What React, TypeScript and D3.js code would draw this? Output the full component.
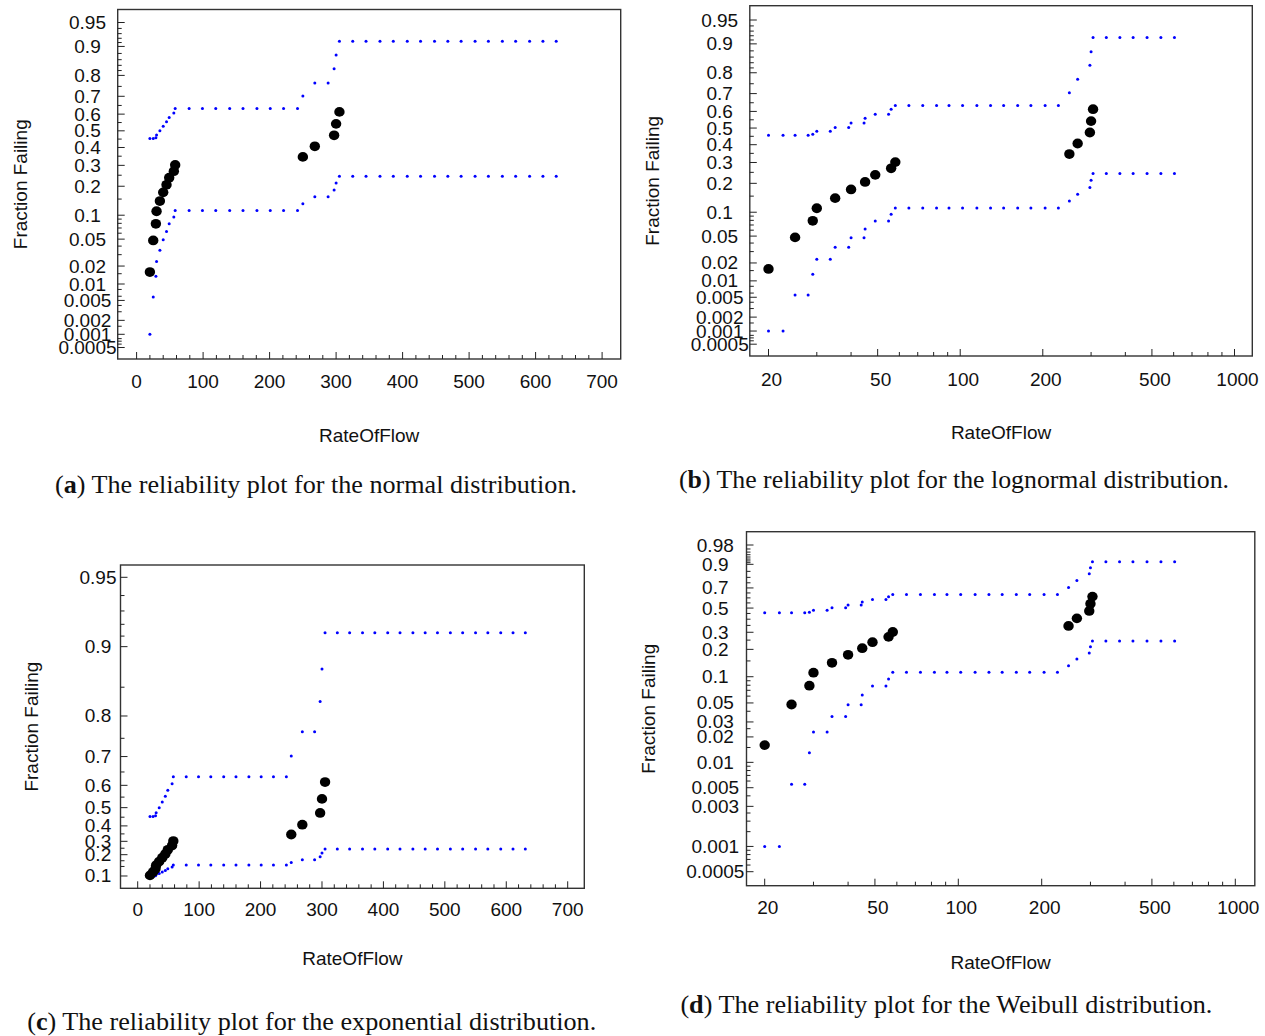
import React from 'react';
import * as d3 from 'd3';

// RateOfFlow at each failure and its estimated fraction failing
const flowFailures = [20, 25, 29, 30, 35, 40, 45, 49, 56, 58, 250, 268, 297, 300, 305];
const fractionFailing = [0.016, 0.048, 0.079, 0.111, 0.143, 0.175, 0.206, 0.238, 0.270, 0.302, 0.346, 0.407, 0.473, 0.542, 0.613];

// confidence band samples on the linear RateOfFlow plots (a, c)
const linBandFlow = [20, 25, 29, 30, 35, 40, 45, 49, 56, 58, 79, 99, 119, 140, 160, 181, 201, 221, 242, 250, 268, 288, 297, 300, 305, 325, 345, 366, 386, 407, 427, 448, 468, 488, 509, 529, 550, 570, 591, 611, 631];
const linBandUpper = [0.454, 0.454, 0.458, 0.474, 0.500, 0.527, 0.554, 0.580, 0.606, 0.633, 0.633, 0.633, 0.633, 0.633, 0.633, 0.633, 0.633, 0.633, 0.633, 0.702, 0.766, 0.766, 0.827, 0.875, 0.913, 0.913, 0.913, 0.913, 0.913, 0.913, 0.913, 0.913, 0.913, 0.913, 0.913, 0.913, 0.913, 0.913, 0.913, 0.913, 0.913];
const linBandLower = [0.001, 0.0058, 0.0136, 0.0235, 0.035, 0.049, 0.063, 0.079, 0.095, 0.113, 0.113, 0.113, 0.113, 0.113, 0.113, 0.113, 0.113, 0.113, 0.113, 0.134, 0.158, 0.158, 0.184, 0.214, 0.245, 0.245, 0.245, 0.245, 0.245, 0.245, 0.245, 0.245, 0.245, 0.245, 0.245, 0.245, 0.245, 0.245, 0.245, 0.245, 0.245];

// confidence band samples on the log RateOfFlow plots (b, d)
const logBandFlow = [20, 22.6, 25, 27.9, 29, 30, 33.6, 35, 39.2, 40, 44.6, 45, 49, 54.8, 56, 58, 65, 73, 82, 91, 102, 115, 129, 144, 162, 181, 204, 228, 250, 268, 297, 300, 305, 341, 382, 427, 480, 539, 604];
const logBandUpper = [0.456, 0.456, 0.456, 0.456, 0.462, 0.480, 0.480, 0.504, 0.504, 0.530, 0.530, 0.559, 0.583, 0.583, 0.612, 0.635, 0.635, 0.635, 0.635, 0.635, 0.635, 0.635, 0.635, 0.635, 0.635, 0.635, 0.635, 0.635, 0.704, 0.771, 0.830, 0.877, 0.916, 0.916, 0.916, 0.916, 0.916, 0.916, 0.916];
const logBandLower = [0.001, 0.001, 0.0055, 0.0055, 0.013, 0.0228, 0.0228, 0.0347, 0.0347, 0.0475, 0.0475, 0.062, 0.0785, 0.0785, 0.0945, 0.112, 0.112, 0.112, 0.112, 0.112, 0.112, 0.112, 0.112, 0.112, 0.112, 0.112, 0.112, 0.112, 0.133, 0.157, 0.183, 0.213, 0.245, 0.245, 0.245, 0.245, 0.245, 0.245, 0.245];

// axis ticks
const linFlowTicks = [0, 100, 200, 300, 400, 500, 600, 700];
const logFlowTicks = [20, 50, 100, 200, 500, 1000];
const logFlowMinor = [30, 40, 60, 70, 80, 90, 300, 400, 600, 700, 800, 900];
const normalTicks = [0.95, 0.9, 0.8, 0.7, 0.6, 0.5, 0.4, 0.3, 0.2, 0.1, 0.05, 0.02, 0.01, 0.005, 0.002, 0.001, 0.0005];
const normalMinor = [0.94, 0.93, 0.92, 0.91, 0.88, 0.86, 0.84, 0.82, 0.75, 0.65, 0.55, 0.45, 0.35, 0.25, 0.15, 0.09, 0.08, 0.07, 0.06, 0.04, 0.03, 0.015, 0.008, 0.006, 0.004, 0.003, 0.0015, 0.0008, 0.0007, 0.0006];
const expTicks = [0.95, 0.9, 0.8, 0.7, 0.6, 0.5, 0.4, 0.3, 0.2, 0.01];
const expTickLabels = ['0.95', '0.9', '0.8', '0.7', '0.6', '0.5', '0.4', '0.3', '0.2', '0.1'];
const expMinor = [0.94, 0.93, 0.92, 0.91, 0.85, 0.75, 0.65, 0.55, 0.45, 0.35, 0.25, 0.15, 0.1];
const weibullTicks = [0.98, 0.9, 0.7, 0.5, 0.3, 0.2, 0.1, 0.05, 0.03, 0.02, 0.01, 0.005, 0.003, 0.001, 0.0005];
const weibullMinor = [0.97, 0.96, 0.95, 0.94, 0.93, 0.92, 0.91, 0.85, 0.8, 0.75, 0.65, 0.6, 0.55, 0.45, 0.4, 0.35, 0.25, 0.15, 0.09, 0.08, 0.07, 0.06, 0.04, 0.025, 0.015, 0.009, 0.008, 0.007, 0.006, 0.004, 0.0025, 0.002, 0.0015, 0.0009, 0.0008, 0.0007, 0.0006];

const captions = [
  { tag: 'a', text: ') The reliability plot for the normal distribution.' },
  { tag: 'b', text: ') The reliability plot for the lognormal distribution.' },
  { tag: 'c', text: ') The reliability plot for the exponential distribution.' },
  { tag: 'd', text: ') The reliability plot for the Weibull distribution.' },
];

// inverse normal cdf (Acklam)
function probit(p: number) {
  const a = [-39.69683028665376, 220.9460984245205, -275.9285104469687, 138.357751867269, -30.66479806614716, 2.506628277459239];
  const b = [-54.47609879822406, 161.5858368580409, -155.6989798598866, 66.80131188771972, -13.28068155288572];
  const c = [-0.007784894002430293, -0.3223964580411365, -2.400758277161838, -2.549732539343734, 4.374664141464968, 2.938163982698783];
  const d = [0.007784695709041462, 0.3224671290700398, 2.445134137142996, 3.754408661907416];
  const lo = 0.02425;
  if (p < lo) {
    const q = Math.sqrt(-2 * Math.log(p));
    return (((((c[0] * q + c[1]) * q + c[2]) * q + c[3]) * q + c[4]) * q + c[5]) / ((((d[0] * q + d[1]) * q + d[2]) * q + d[3]) * q + 1);
  }
  if (p <= 1 - lo) {
    const q = p - 0.5, r = q * q;
    return (((((a[0] * r + a[1]) * r + a[2]) * r + a[3]) * r + a[4]) * r + a[5]) * q / (((((b[0] * r + b[1]) * r + b[2]) * r + b[3]) * r + b[4]) * r + 1);
  }
  const q = Math.sqrt(-2 * Math.log(1 - p));
  return -(((((c[0] * q + c[1]) * q + c[2]) * q + c[3]) * q + c[4]) * q + c[5]) / ((((d[0] * q + d[1]) * q + d[2]) * q + d[3]) * q + 1);
}
const expT = (p: number) => -Math.log(1 - p);
const weibT = (p: number) => Math.log(-Math.log(1 - p));

const SANS = 'Liberation Sans, Arial, sans-serif';
const SERIF = 'Liberation Serif, Times New Roman, serif';

function Panel({ cfg }: { cfg: any }) {
  const { box, x, yPos, xTicks, xMinor, yTicks, yLabels, yMinor, labelX, xLabelY, yTitleX, xTitleY, bandFlow, bandUpper, bandLower, xLabelDx } = cfg;
  const midX = (box.l + box.r) / 2;
  const midY = (box.t + box.b) / 2;
  return (
    <g>
      <rect x={box.l} y={box.t} width={box.r - box.l} height={box.b - box.t} fill="white" stroke="#333" strokeWidth={1.4} />
      {yTicks.map((p: number) => (
        <line key={'yt' + p} x1={box.l} x2={box.l + 7} y1={yPos(p)} y2={yPos(p)} stroke="#222" strokeWidth={1} />
      ))}
      {yMinor.map((p: number) => (
        <line key={'ym' + p} x1={box.l} x2={box.l + 4} y1={yPos(p)} y2={yPos(p)} stroke="#222" strokeWidth={1} />
      ))}
      {xTicks.map((v: number) => (
        <line key={'xt' + v} x1={x(v)} x2={x(v)} y1={box.b} y2={box.b - 7} stroke="#222" strokeWidth={1} />
      ))}
      {xMinor.map((v: number) => (
        <line key={'xm' + v} x1={x(v)} x2={x(v)} y1={box.b} y2={box.b - 4} stroke="#222" strokeWidth={1} />
      ))}
      {bandFlow.map((v: number, i: number) => (
        <g key={'b' + i}>
          <circle cx={x(v)} cy={yPos(bandUpper[i])} r={1.5} fill="#0000ff" />
          <circle cx={x(v)} cy={yPos(bandLower[i])} r={1.5} fill="#0000ff" />
        </g>
      ))}
      {flowFailures.map((v, i) => (
        <ellipse key={'f' + i} cx={x(v)} cy={yPos(fractionFailing[i])} rx={5.2} ry={4.9} fill="#000" />
      ))}
      <g fontFamily={SANS} fontSize={19} fill="#111">
        {yTicks.map((p: number, i: number) => (
          <text key={'yl' + p} x={labelX} y={yPos(p)} textAnchor="middle" dominantBaseline="central">{yLabels[i]}</text>
        ))}
        {xTicks.map((v: number) => (
          <text key={'xl' + v} x={x(v) + xLabelDx} y={xLabelY} textAnchor="middle" dominantBaseline="central">{v}</text>
        ))}
        <text x={midX} y={xTitleY} textAnchor="middle" dominantBaseline="central">RateOfFlow</text>
        <text transform={`translate(${yTitleX},${midY}) rotate(-90)`} textAnchor="middle" dominantBaseline="central">Fraction Failing</text>
      </g>
    </g>
  );
}

export default function App() {
  const linA = d3.scaleLinear().domain([0, 700]).range([136.6, 602.1]);
  const logB = d3.scaleLog().domain([20, 1000]).range([768.5, 1234.5]);
  const linC = d3.scaleLinear().domain([0, 700]).range([137.7, 567.7]);
  const logD = d3.scaleLog().domain([20, 1000]).range([764.7, 1235.3]);

  const yA = d3.scaleLinear().domain([probit(0.0005), probit(0.95)]).range([347.5, 22.5]);
  const yB = d3.scaleLinear().domain([probit(0.0005), probit(0.95)]).range([344.2, 20]);
  const yC = d3.scaleLinear().domain([0, expT(0.95)]).range([877, 577.3]);
  const yD = d3.scaleLinear().domain([weibT(0.0005), weibT(0.98)]).range([871.7, 545]);

  const fmt = (p: number) => String(p);
  const linMinor = d3.range(20, 700, 20).filter((v) => v % 100 !== 0);

  const panels = [
    {
      box: { l: 117.7, r: 620.7, t: 9.5, b: 359 }, x: linA, yPos: (p: number) => yA(probit(p)),
      xTicks: linFlowTicks, xMinor: linMinor, xLabelDx: 0,
      yTicks: normalTicks, yLabels: normalTicks.map(fmt), yMinor: normalMinor,
      labelX: 87.5, xLabelY: 381, yTitleX: 20, xTitleY: 435,
      bandFlow: linBandFlow, bandUpper: linBandUpper, bandLower: linBandLower,
    },
    {
      box: { l: 749.8, r: 1252.3, t: 5.7, b: 356 }, x: logB, yPos: (p: number) => yB(probit(p)),
      xTicks: logFlowTicks, xMinor: logFlowMinor, xLabelDx: 3,
      yTicks: normalTicks, yLabels: normalTicks.map(fmt), yMinor: normalMinor,
      labelX: 719.7, xLabelY: 379, yTitleX: 652.3, xTitleY: 432.7,
      bandFlow: logBandFlow, bandUpper: logBandUpper, bandLower: logBandLower,
    },
    {
      box: { l: 120.5, r: 584.3, t: 565, b: 888.3 }, x: linC, yPos: (p: number) => yC(expT(p)),
      xTicks: linFlowTicks, xMinor: linMinor, xLabelDx: 0,
      yTicks: expTicks, yLabels: expTickLabels, yMinor: expMinor,
      labelX: 98, xLabelY: 909.5, yTitleX: 31.3, xTitleY: 958.3,
      bandFlow: linBandFlow, bandUpper: linBandUpper, bandLower: linBandLower,
    },
    {
      box: { l: 746.5, r: 1254.8, t: 531.7, b: 885.7 }, x: logD, yPos: (p: number) => yD(weibT(p)),
      xTicks: logFlowTicks, xMinor: logFlowMinor, xLabelDx: 3,
      yTicks: weibullTicks, yLabels: weibullTicks.map(fmt), yMinor: weibullMinor,
      labelX: 715.3, xLabelY: 907.5, yTitleX: 648.2, xTitleY: 962.3,
      bandFlow: logBandFlow, bandUpper: logBandUpper, bandLower: logBandLower,
    },
  ];

  const captionPos = [
    { x: 316, y: 493, w: 522 },
    { x: 954, y: 488, w: 550 },
    { x: 311.7, y: 1030, w: 569 },
    { x: 946.4, y: 1013, w: 532 },
  ];

  return (
    <svg width={1265} height={1036} style={{ position: 'absolute', left: 0, top: 0, background: 'white' }}>
      {panels.map((cfg, i) => <Panel key={i} cfg={cfg} />)}
      {captions.map((c, i) => (
        <text key={c.tag} x={captionPos[i].x} y={captionPos[i].y} textAnchor="middle" fontFamily={SERIF} fontSize={25} fill="#111"
          textLength={captionPos[i].w} lengthAdjust="spacingAndGlyphs">
          (<tspan fontWeight="bold">{c.tag}</tspan>{c.text}
        </text>
      ))}
    </svg>
  );
}
